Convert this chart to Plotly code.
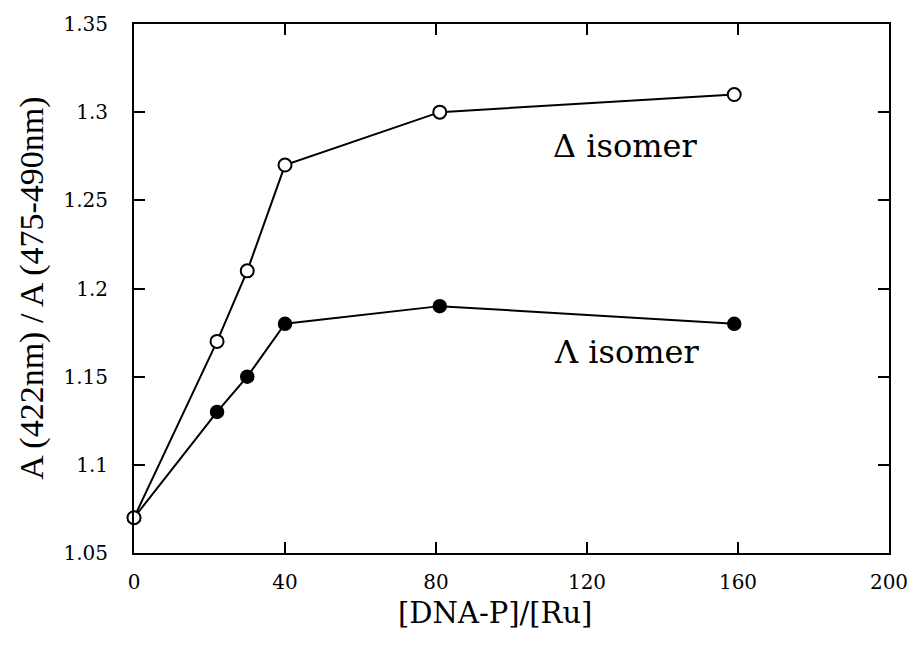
import plotly.graph_objects as go

# Ratio [DNA-P]/[Ru] and absorbance ratio A(422nm)/A(475-490nm)
ratio_x = [0, 22, 30, 40, 81, 159]
delta_y = [1.07, 1.17, 1.21, 1.27, 1.30, 1.31]
lambda_y = [1.07, 1.13, 1.15, 1.18, 1.19, 1.18]

x_ticks = [0, 40, 80, 120, 160, 200]
y_ticks = [1.05, 1.1, 1.15, 1.2, 1.25, 1.3, 1.35]
y_tick_text = ["1.05", "1.1", "1.15", "1.2", "1.25", "1.3", "1.35"]

SERIF = "Liberation Serif"
WIDE_SERIF = "DejaVu Serif"

fig = go.Figure()

fig.add_trace(go.Scatter(
    x=ratio_x, y=lambda_y, mode="lines+markers", name="Λ isomer",
    line=dict(color="black", width=2),
    marker=dict(symbol="circle", size=13, color="black",
                line=dict(color="black", width=1.5)),
    showlegend=False, cliponaxis=False,
))
fig.add_trace(go.Scatter(
    x=ratio_x, y=delta_y, mode="lines+markers", name="Δ isomer",
    line=dict(color="black", width=2),
    marker=dict(symbol="circle", size=13, color="white",
                line=dict(color="black", width=2)),
    showlegend=False, cliponaxis=False,
))

fig.add_annotation(x=130, y=1.281, xref="x", yref="y", text="Δ isomer",
                   showarrow=False, font=dict(family=WIDE_SERIF, size=32, color="black"))
fig.add_annotation(x=130.5, y=1.164, xref="x", yref="y", text="Λ isomer",
                   showarrow=False, font=dict(family=WIDE_SERIF, size=32, color="black"))

# Axis titles
fig.add_annotation(x=(30 - 134) / 765, y=0.5, xref="paper", yref="paper",
                   text="A (422nm) / A (475-490nm)", textangle=-90,
                   showarrow=False, xanchor="center", yanchor="middle",
                   font=dict(family=SERIF, size=34, color="black"))
fig.add_annotation(x=(500 - 134) / 765, y=(553 - 613) / 530, xref="paper", yref="paper",
                   text="[DNA-P]/[Ru]", showarrow=False,
                   xanchor="center", yanchor="middle",
                   font=dict(family=WIDE_SERIF, size=29, color="black"))

axis_common = dict(
    showline=True, linecolor="black", linewidth=2, mirror="allticks",
    ticks="inside", ticklen=11, tickwidth=1.5, tickcolor="black",
    showgrid=False, zeroline=False,
    tickfont=dict(family=WIDE_SERIF, size=20, color="black"),
)

fig.update_xaxes(range=[0, 200], tickvals=x_ticks, ticktext=[str(v) for v in x_ticks],
                 ticklabelstandoff=10, **axis_common)
fig.update_yaxes(range=[1.05, 1.35], tickvals=y_ticks, ticktext=y_tick_text,
                 ticklabelstandoff=20, **axis_common)

fig.update_layout(
    width=920, height=647,
    margin=dict(l=134, r=21, t=23, b=94),
    paper_bgcolor="white", plot_bgcolor="white",
    font=dict(family=WIDE_SERIF, color="black"),
)

fig.write_html("out.html")
